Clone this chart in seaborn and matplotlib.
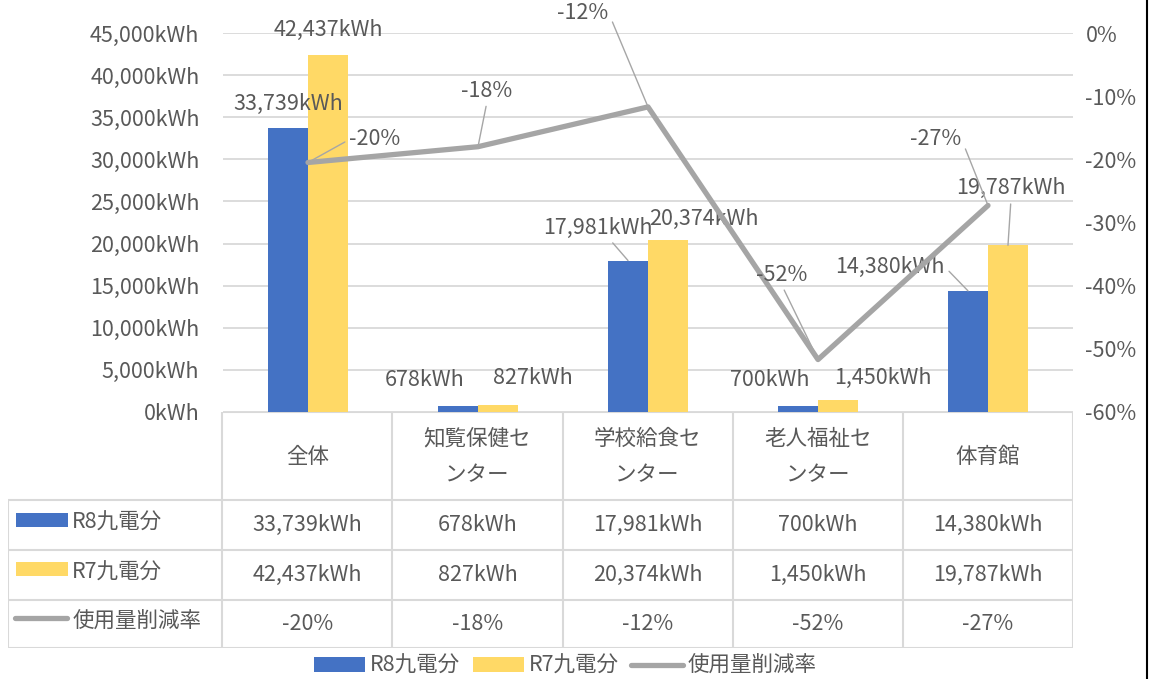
import numpy as np
import pandas as pd
import matplotlib
matplotlib.use("Agg")
import matplotlib.pyplot as plt
from matplotlib.patches import Rectangle, Patch
from matplotlib.lines import Line2D
from matplotlib.ticker import FuncFormatter
import seaborn as sns

# ---------------- data ----------------
categories = ["全体", "知覧保健センター", "学校給食センター", "老人福祉センター", "体育館"]
r8_kwh = [33739, 678, 17981, 700, 14380]
r7_kwh = [42437, 827, 20374, 1450, 19787]
reduction_rate = [-0.205, -0.180, -0.117, -0.517, -0.273]
series_names = ["R8九電分", "R7九電分", "使用量削減率"]
left_ticks = [0, 5000, 10000, 15000, 20000, 25000, 30000, 35000, 40000, 45000]
right_ticks = [-0.6, -0.5, -0.4, -0.3, -0.2, -0.1, 0.0]

# ---------------- style ----------------
BLUE = "#4472C4"
YELLOW = "#FFD966"
GRAY = "#A5A5A5"
TXT = "#595959"
GRID = "#D9D9D9"
FS = 15.5

sns.set_theme(style="white")
plt.rcParams["font.family"] = ["Noto Sans CJK JP", "DejaVu Sans"]

W, H = 1152, 679
fig = plt.figure(figsize=(W / 100, H / 100), dpi=100)
fig.patch.set_facecolor("white")

def fx(px):
    return px / W

def fy(py):
    return 1 - py / H

ax = fig.add_axes([fx(223), fy(412), fx(1073) - fx(223), fy(33) - fy(412)])

def kwh(v):
    return f"{v:,}kWh"

def pct(v):
    return f"{round(v * 100)}%"

df = pd.DataFrame({
    "category": categories * 2,
    "kwh": r8_kwh + r7_kwh,
    "series": [series_names[0]] * len(categories) + [series_names[1]] * len(categories),
})

sns.barplot(data=df, x="category", y="kwh", hue="series", order=categories,
            hue_order=series_names[:2], palette=[BLUE, YELLOW], saturation=1,
            width=0.47, gap=0, linewidth=0, ax=ax, legend=False)

ax.set_xlim(-0.5, len(categories) - 0.5)
ax.set_ylim(left_ticks[0], left_ticks[-1])
ax.set_yticks(left_ticks)
ax.yaxis.set_major_formatter(FuncFormatter(lambda v, p: kwh(int(v))))
ax.set_xticks([])
ax.set_xlabel("")
ax.set_ylabel("")
ax.grid(axis="y", color=GRID, lw=1.3)
ax.set_axisbelow(True)
for s in ax.spines.values():
    s.set_visible(False)
ax.tick_params(axis="y", length=0, pad=17, labelsize=FS, labelcolor=TXT)

ax2 = ax.twinx()
sns.lineplot(x=np.arange(len(categories)), y=reduction_rate, ax=ax2, color=GRAY,
             lw=3.8, legend=False)
ax2.set_ylim(right_ticks[0], right_ticks[-1])
ax2.set_yticks(right_ticks)
ax2.yaxis.set_major_formatter(FuncFormatter(lambda v, p: pct(v)))
ax2.set_xlim(-0.5, len(categories) - 0.5)
ax2.set_ylabel("")
for s in ax2.spines.values():
    s.set_visible(False)
ax2.grid(False)
ax2.tick_params(axis="y", length=0, pad=9, labelsize=FS, labelcolor=TXT)

LEAD = dict(arrowstyle="-", color="#A6A6A6", lw=1.0, shrinkA=1, shrinkB=0)

# label offsets (pixels) and leader relpos (None = no leader)
r8_offsets = [(0, 24), (-33, 26), (-30, 33), (-28, 26), (-78, 24)]
r8_leaders = [None, None, (0.6, 0), None, (1, 0.5)]
r7_offsets = [(0, 25), (35, 27), (36, 21), (45, 22), (3, 57)]
r7_leaders = [None, None, None, None, (0.5, 0)]
rate_offsets = [(67, 23), (9, 56), (-65, 94), (-36, 85), (-52, 66)]
rate_leaders = [(0, 0.5), (0.5, 0), (1, 0.5), (0.5, 0), (1, 0.5)]

for cont, vals, offs, leads in [(ax.containers[0], r8_kwh, r8_offsets, r8_leaders),
                                (ax.containers[1], r7_kwh, r7_offsets, r7_leaders)]:
    for bar, v, off, rp in zip(cont, vals, offs, leads):
        cx = bar.get_x() + bar.get_width() / 2
        kw = {}
        if rp is not None:
            kw["arrowprops"] = dict(LEAD, relpos=rp)
        ax.annotate(kwh(v), xy=(cx, bar.get_height()), xytext=off,
                    textcoords="offset pixels", ha="center", va="center",
                    fontsize=FS, color=TXT, zorder=5, **kw)

for i, (v, off, rp) in enumerate(zip(reduction_rate, rate_offsets, rate_leaders)):
    ax2.annotate(pct(v), xy=(i, v), xytext=off, textcoords="offset pixels",
                 ha="center", va="center", fontsize=FS, color=TXT, zorder=5,
                 arrowprops=dict(LEAD, relpos=rp))

# ---------------- data table ----------------
tab = fig.add_axes([fx(8), fy(648), fx(1073) - fx(8), fy(412) - fy(648)])
x_left = -0.5 - (222 - 8) / 170
n = len(categories)
tab.set_xlim(x_left, n - 0.5)
tab.set_ylim(236, 0)
tab.axis("off")
rows = [0, 88, 138, 188, 236]
LW = 1.5
tab.plot([-0.5, n - 0.5], [0, 0], color=GRID, lw=LW, solid_capstyle="butt")
for yv in rows[1:]:
    tab.plot([x_left, n - 0.5], [yv, yv], color=GRID, lw=LW, solid_capstyle="butt")
for i in range(n + 1):
    tab.plot([i - 0.5, i - 0.5], [0, 236], color=GRID, lw=LW, solid_capstyle="butt")
tab.plot([x_left, x_left], [88, 236], color=GRID, lw=LW, solid_capstyle="butt")

def wrap(s, k=5):
    return s if len(s) <= k else s[:k] + "\n" + s[k:]

for i, c in enumerate(categories):
    tab.text(i, 45, wrap(c), ha="center", va="center", fontsize=FS, color=TXT,
             linespacing=1.85)

row_vals = [[kwh(v) for v in r8_kwh], [kwh(v) for v in r7_kwh],
            [pct(v) for v in reduction_rate]]
row_centers = [113, 163, 212]
for rv, yc in zip(row_vals, row_centers):
    for i, s in enumerate(rv):
        tab.text(i, yc, s, ha="center", va="center", fontsize=FS, color=TXT)

px = 1 / 170
tab.add_patch(Rectangle((x_left + 8 * px, 101), 52 * px, 14, color=BLUE, lw=0))
tab.add_patch(Rectangle((x_left + 8 * px, 150), 52 * px, 14, color=YELLOW, lw=0))
tab.plot([x_left + 7 * px, x_left + 59 * px], [206, 206], color=GRAY, lw=3.8,
         solid_capstyle="round")
for name, yc in zip(series_names, row_centers):
    tab.text(x_left + 64 * px, yc - 2, name, ha="left", va="center",
             fontsize=FS, color=TXT)

# ---------------- legend ----------------
handles = [Patch(color=BLUE, lw=0), Patch(color=YELLOW, lw=0),
           Line2D([0], [0], color=GRAY, lw=3.8)]
fig.legend(handles, series_names, loc="center", bbox_to_anchor=(fx(565), fy(666)),
           ncol=3, frameon=False, fontsize=FS, labelcolor=TXT,
           handlelength=2.4, handleheight=0.65, handletextpad=0.2,
           columnspacing=0.6, borderpad=0, borderaxespad=0)

fig.add_artist(Line2D([fx(1147), fx(1147)], [0, 1], color="black", lw=1.5,
                      transform=fig.transFigure))

fig.savefig("out.png", dpi=100, facecolor="white")
